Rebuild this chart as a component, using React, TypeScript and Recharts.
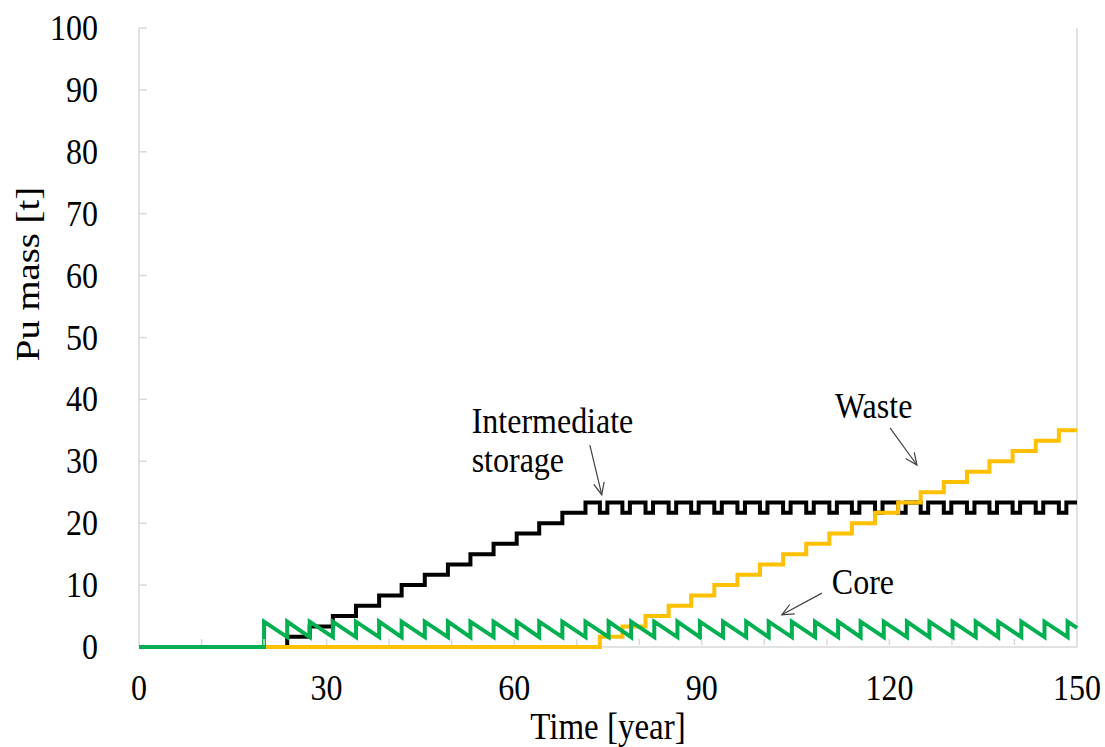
import React from 'react';
import { LineChart, Line, XAxis, YAxis, ReferenceDot, ReferenceLine, CartesianGrid } from 'recharts';

// Reactor cycle start years (core reload / discharge events)
const cycleYears = [
  20.0, 23.7, 27.3, 31.0, 34.7, 38.4, 42.0, 45.7, 49.4, 53.0, 56.7, 60.4,
  64.0, 67.7, 71.4, 75.1, 78.7, 82.4, 86.1, 89.7, 93.4, 97.1, 100.7, 104.4,
  108.1, 111.8, 115.4, 119.1, 122.8, 126.4, 130.1, 133.8, 137.4, 141.1, 144.8, 148.5,
];
const corePeak = 4.1;
const coreTrough = 1.6;
const coreEnd = 3.1;

// Intermediate storage build-up steps
const storageStepYears = [23.7, 27.3, 31.0, 34.7, 38.4, 42.0, 45.7, 49.4, 53.0, 56.7, 60.4, 64.0, 67.7, 71.4];
const storageStepValues = [1.67, 3.33, 5.0, 6.67, 8.33, 10.0, 11.67, 13.33, 15.0, 16.67, 18.33, 20.0, 21.67, 23.33];
const storageHigh = 23.33;
const storageLow = 21.67;
const storageDipStart = [73.7, 77.3, 81.0, 84.7, 88.3, 92.0, 95.7, 99.3, 103.0, 106.7, 110.4, 114.0, 117.7, 121.4, 125.0, 128.7, 132.4, 136.0, 139.7, 143.4, 147.1];
const storageDipEnd = [74.9, 78.5, 82.2, 85.9, 89.5, 93.2, 96.9, 100.5, 104.2, 107.9, 111.6, 115.2, 118.9, 122.6, 126.2, 129.9, 133.6, 137.2, 140.9, 144.6, 148.3];

// Waste accumulation steps
const wasteStepYears = [73.7, 77.3, 81.0, 84.7, 88.3, 92.0, 95.7, 99.3, 103.0, 106.7, 110.4, 114.0, 117.7, 121.4, 125.0, 128.7, 132.4, 136.0, 139.7, 143.4, 147.1];
const wasteStepValues = [1.67, 3.33, 5.0, 6.67, 8.33, 10.0, 11.67, 13.33, 15.0, 16.67, 18.33, 20.0, 21.67, 23.33, 25.0, 26.67, 28.33, 30.0, 31.67, 33.33, 35.0];

const xTicks = [0, 10, 20, 30, 40, 50, 60, 70, 80, 90, 100, 110, 120, 130, 140, 150];
const xLabelTicks = [0, 30, 60, 90, 120, 150];
const yTicks = [0, 10, 20, 30, 40, 50, 60, 70, 80, 90, 100];

const FONT = '"Liberation Serif", "Times New Roman", serif';
const AXIS_GRAY = '#D9D9D9';
const SY = 1.14;

type Pt = { t: number; v: number };

const coreData: Pt[] = (() => {
  const d: Pt[] = [{ t: 0, v: 0 }, { t: cycleYears[0], v: 0 }];
  cycleYears.forEach((y, i) => {
    if (i > 0) d.push({ t: y, v: coreTrough });
    d.push({ t: y, v: corePeak });
  });
  d.push({ t: 150, v: coreEnd });
  return d;
})();

const storageData: Pt[] = (() => {
  const d: Pt[] = [{ t: 0, v: 0 }];
  let prev = 0;
  storageStepYears.forEach((y, i) => {
    d.push({ t: y, v: prev });
    d.push({ t: y, v: storageStepValues[i] });
    prev = storageStepValues[i];
  });
  storageDipStart.forEach((s, i) => {
    d.push({ t: s, v: storageHigh });
    d.push({ t: s, v: storageLow });
    d.push({ t: storageDipEnd[i], v: storageLow });
    d.push({ t: storageDipEnd[i], v: storageHigh });
  });
  d.push({ t: 150, v: storageHigh });
  return d;
})();

const wasteData: Pt[] = (() => {
  const d: Pt[] = [{ t: 0, v: 0 }];
  let prev = 0;
  wasteStepYears.forEach((y, i) => {
    d.push({ t: y, v: prev });
    d.push({ t: y, v: wasteStepValues[i] });
    prev = wasteStepValues[i];
  });
  d.push({ t: 150, v: prev });
  return d;
})();

const SText = (p: { x: number; y: number; anchor?: string; size?: number; rotate?: number; children: React.ReactNode }) => {
  const { x, y, anchor = 'start', size = 32, rotate = 0, children } = p;
  const tf = rotate
    ? `translate(${x},${y}) rotate(${rotate}) scale(${SY},1)`
    : `translate(${x},${y}) scale(1,${SY})`;
  return (
    <text x={0} y={0} transform={tf} textAnchor={anchor} fontFamily={FONT} fontSize={size} fill="#000">
      {children}
    </text>
  );
};

const XTick = (props: any) => {
  const { x, y, payload } = props;
  const show = xLabelTicks.includes(payload.value);
  return (
    <g>
      {payload.value !== 0 && payload.value !== 150 && (
        <line x1={x} y1={y - 2} x2={x} y2={y - 8} stroke={AXIS_GRAY} strokeWidth={1.5} />
      )}
      {show && (
        <SText x={x} y={y + 53} anchor="middle">
          {payload.value}
        </SText>
      )}
    </g>
  );
};

const YTick = (props: any) => {
  const { x, y, payload } = props;
  return (
    <g>
      {payload.value !== 0 && (
        <line x1={x} y1={y} x2={x + 8} y2={y} stroke={AXIS_GRAY} strokeWidth={1.5} />
      )}
      <SText x={x - 41} y={y + 12} anchor="end">
        {payload.value}
      </SText>
    </g>
  );
};

const ArrowShape = (props: any) => {
  const { x1, y1, x2, y2 } = props;
  if ([x1, y1, x2, y2].some((v) => v === undefined || Number.isNaN(v))) return null;
  const ang = Math.atan2(y2 - y1, x2 - x1);
  const len = 13;
  const spread = 0.42;
  const a1x = x2 - len * Math.cos(ang - spread);
  const a1y = y2 - len * Math.sin(ang - spread);
  const a2x = x2 - len * Math.cos(ang + spread);
  const a2y = y2 - len * Math.sin(ang + spread);
  return (
    <g stroke="#404040" strokeWidth={1.2} fill="none">
      <line x1={x1} y1={y1} x2={x2} y2={y2} />
      <polyline points={`${a1x},${a1y} ${x2},${y2} ${a2x},${a2y}`} />
    </g>
  );
};

const textShape = (label: string) => (props: any) => {
  const { cx, cy } = props;
  return (
    <SText x={cx} y={cy}>
      {label}
    </SText>
  );
};

export default function App() {
  return (
    <div style={{ position: 'absolute', left: 0, top: 0, width: 1105, height: 747, background: '#fff' }}>
      <LineChart width={1105} height={747} margin={{ top: 28, right: 28, bottom: 0, left: 0 }}>
        <CartesianGrid
          stroke={AXIS_GRAY}
          strokeWidth={1.5}
          strokeDasharray=""
          horizontalValues={[0]}
          verticalValues={[0, 150]}
        />
        <XAxis
          type="number"
          dataKey="t"
          domain={[0, 150]}
          ticks={xTicks}
          interval={0}
          height={100}
          tickSize={0}
          tickMargin={0}
          tickLine={false}
          axisLine={false}
          tick={<XTick />}
          label={(p: any) => {
            const vb = p.viewBox || {};
            const cx = (vb.x ?? 139) + (vb.width ?? 938) / 2;
            return (
              <SText x={cx} y={739} anchor="middle" size={33}>
                Time [year]
              </SText>
            );
          }}
        />
        <YAxis
          type="number"
          domain={[0, 100]}
          ticks={yTicks}
          interval={0}
          width={139}
          tickSize={0}
          tickMargin={0}
          tickLine={false}
          axisLine={false}
          tick={<YTick />}
          label={() => (
            <SText x={39} y={274} anchor="middle" size={34} rotate={-90}>
              Pu mass [t]
            </SText>
          )}
        />
        <Line data={storageData} dataKey="v" type="linear" stroke="#000000" strokeWidth={4} dot={false} isAnimationActive={false} />
        <Line data={wasteData} dataKey="v" type="linear" stroke="#FFC000" strokeWidth={4} dot={false} isAnimationActive={false} />
        <Line data={coreData} dataKey="v" type="linear" stroke="#00B050" strokeWidth={4} dot={false} isAnimationActive={false} />

        <ReferenceLine segment={[{ x: 72.1, y: 32.6 }, { x: 74.0, y: 24.6 }]} shape={<ArrowShape />} />
        <ReferenceLine segment={[{ x: 120.1, y: 35.4 }, { x: 124.4, y: 29.4 }]} shape={<ArrowShape />} />
        <ReferenceLine segment={[{ x: 109.2, y: 8.7 }, { x: 102.8, y: 5.2 }]} shape={<ArrowShape />} />

        <ReferenceDot x={53.2} y={34.6} r={0} shape={textShape('Intermediate')} />
        <ReferenceDot x={53.2} y={28.3} r={0} shape={textShape('storage')} />
        <ReferenceDot x={111.3} y={37.0} r={0} shape={textShape('Waste')} />
        <ReferenceDot x={110.8} y={8.5} r={0} shape={textShape('Core')} />
      </LineChart>
    </div>
  );
}
